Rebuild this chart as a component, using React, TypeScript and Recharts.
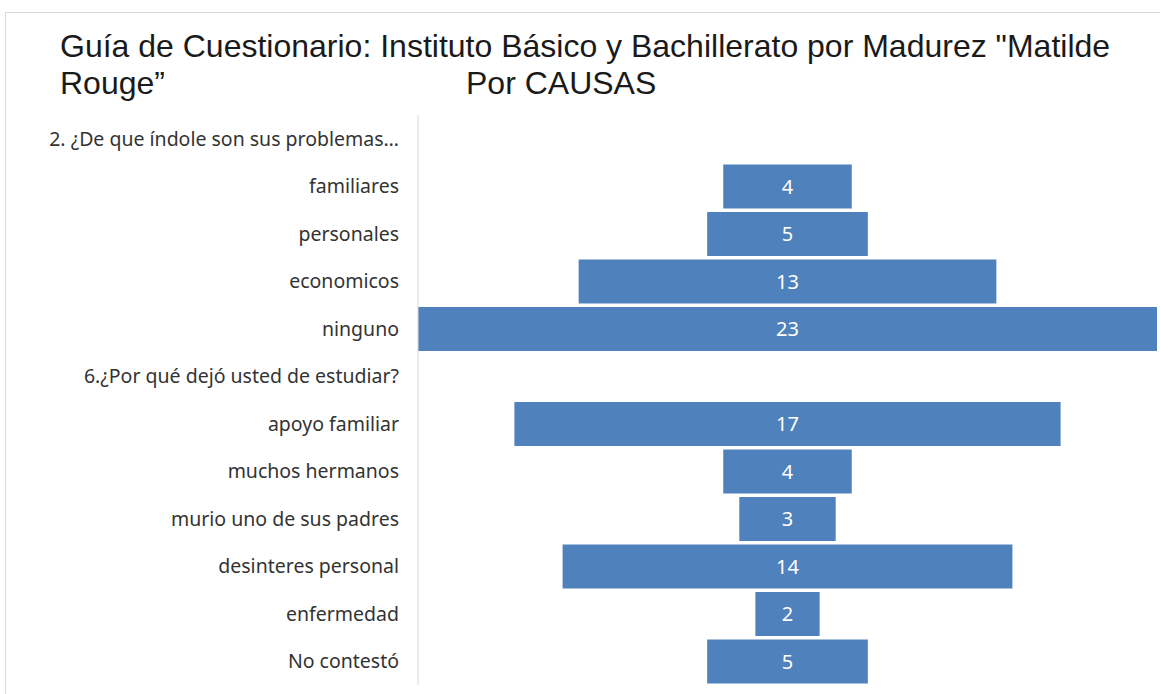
import { Bar, BarChart, LabelList, XAxis, YAxis } from 'recharts';

const categories = [
  '2. ¿De que índole son sus problemas…',
  'familiares',
  'personales',
  'economicos',
  'ninguno',
  '6.¿Por qué dejó usted de estudiar?',
  'apoyo familiar',
  'muchos hermanos',
  'murio uno de sus padres',
  'desinteres personal',
  'enfermedad',
  'No contestó',
];

const counts: (number | null)[] = [null, 4, 5, 13, 23, null, 17, 4, 3, 14, 2, 5];

const MAX = 23;

const data = categories.map((name, i) => {
  const v = counts[i];
  return {
    name,
    pad: v == null ? null : (MAX - v) / 2,
    value: v,
  };
});

const labelFont = '"Noto Sans", "Open Sans", sans-serif';

export default function App() {
  return (
    <div
      style={{
        position: 'absolute',
        left: 0,
        top: 0,
        width: 1160,
        height: 694,
        background: '#fff',
        overflow: 'hidden',
      }}
    >
      <div
        style={{
          position: 'absolute',
          left: 5,
          top: 12,
          width: 1160,
          height: 700,
          borderLeft: '1px solid #d9d9d9',
          borderTop: '1px solid #d9d9d9',
        }}
      />
      <div
        style={{
          position: 'absolute',
          left: 60,
          top: 28,
          fontFamily: '"Liberation Sans", Arial, sans-serif',
          fontSize: 32,
          lineHeight: '37px',
          color: '#1a1a1a',
          whiteSpace: 'nowrap',
        }}
      >
        <div>Guía de Cuestionario: Instituto Básico y Bachillerato por Madurez "Matilde</div>
        <div style={{ position: 'relative' }}>
          <span>Rouge”</span>
          <span style={{ position: 'absolute', left: 406 }}>Por CAUSAS</span>
        </div>
      </div>
      <div style={{ position: 'absolute', left: 0, top: 0 }}>
        <BarChart
          width={1160}
          height={694}
          data={data}
          layout="vertical"
          margin={{ top: 115, right: 3, bottom: 9, left: 0 }}
          barCategoryGap={2}
        >
          <XAxis type="number" domain={[0, MAX]} hide />
          <YAxis
            type="category"
            dataKey="name"
            width={418}
            interval={0}
            tickLine={false}
            tickMargin={13}
            axisLine={{ stroke: '#d9d9d9' }}
            tick={{ fill: '#333333', fontSize: 19.5, fontFamily: labelFont }}
          />
          <Bar dataKey="pad" stackId="a" fill="transparent" isAnimationActive={false} />
          <Bar dataKey="value" stackId="a" fill="#4F81BD" isAnimationActive={false}>
            <LabelList
              dataKey="value"
              position="center"
              fill="#ffffff"
              fontSize={20}
              fontFamily={labelFont}
            />
          </Bar>
        </BarChart>
      </div>
    </div>
  );
}
